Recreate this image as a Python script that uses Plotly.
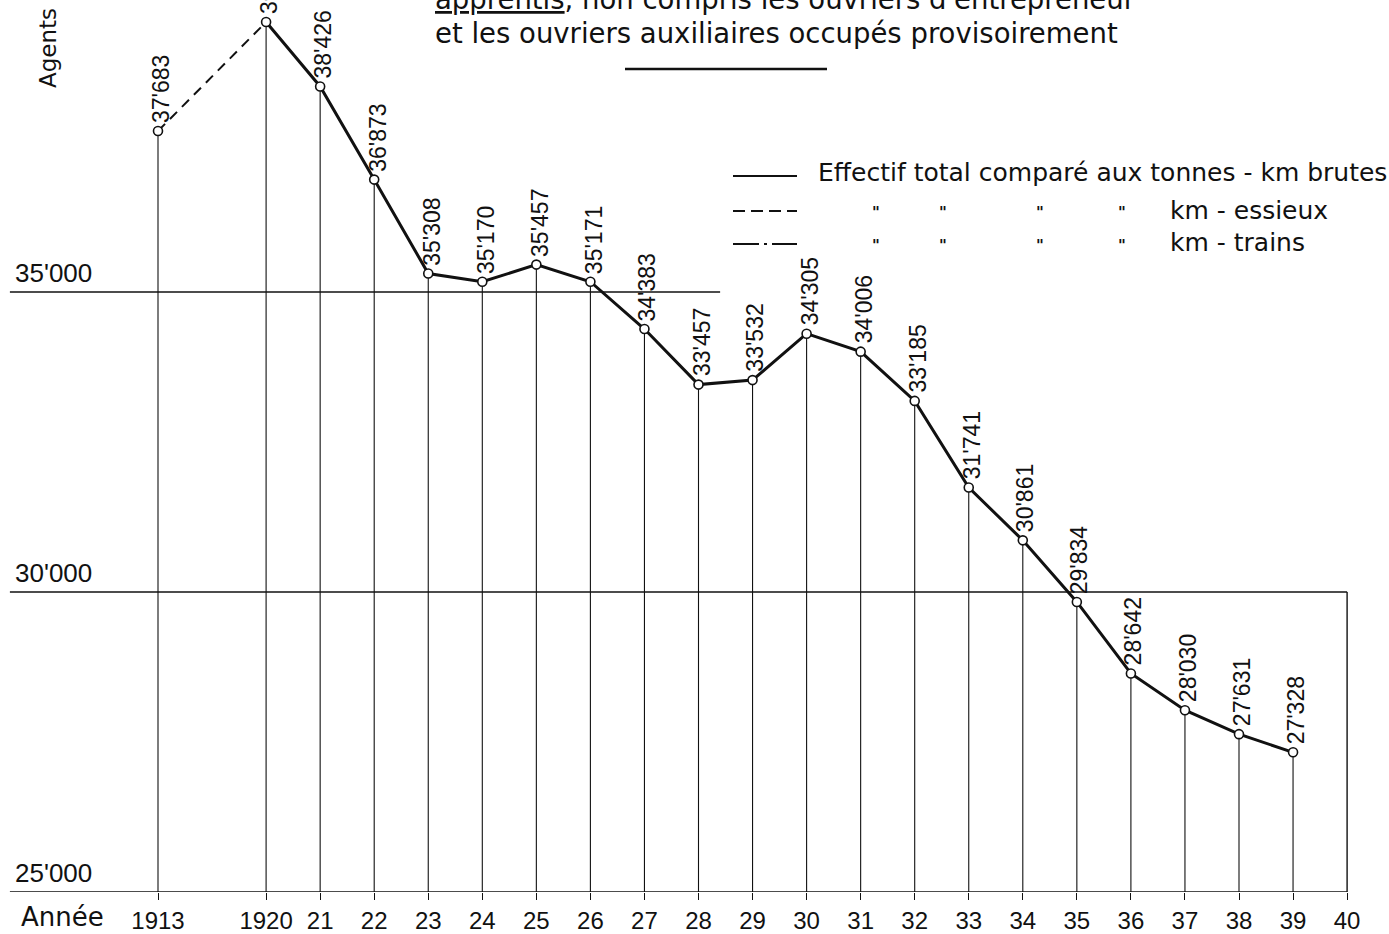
import plotly.graph_objects as go

# ---- data ----
year_labels = ["1913", "1920", "21", "22", "23", "24", "25", "26", "27", "28", "29",
               "30", "31", "32", "33", "34", "35", "36", "37", "38", "39"]
positions = [0, 2, 3, 4, 5, 6, 7, 8, 9, 10, 11, 12, 13, 14, 15, 16, 17, 18, 19, 20, 21]
agents = [37683, 39500, 38426, 36873, 35308, 35170, 35457, 35171, 34383, 33457, 33532,
          34305, 34006, 33185, 31741, 30861, 29834, 28642, 28030, 27631, 27328]
tick_positions = [0] + list(range(2, 23))
tick_labels = ["1913", "1920"] + [str(y) for y in range(21, 41)]
grid_values = [35000, 30000, 25000]
grid_labels = ["35'000", "30'000", "25'000"]

W, H = 1389, 934
B = 42
PLOT_H = H - B
PX_PER_UNIT = 54.05
X0_PX = 158
Y_BASE = 25000
PX_PER_AGENT = 0.06

x_range = [-X0_PX / PX_PER_UNIT, (W - X0_PX) / PX_PER_UNIT]
y_range = [Y_BASE, Y_BASE + PLOT_H / PX_PER_AGENT]


def px_x(px):
    return px / W


def px_y(py):
    return (PLOT_H - py) / PLOT_H


INK = "#111111"
LETTER = "DejaVu Sans"
NUM = "Liberation Sans"

fig = go.Figure()

# drop lines
dx, dy = [], []
for p, v in zip(positions, agents):
    dx += [p, p, None]
    dy += [v, Y_BASE, None]
fig.add_trace(go.Scatter(x=dx, y=dy, mode="lines", line=dict(color=INK, width=1.1),
                         hoverinfo="skip", showlegend=False))

# dashed 1913-1920 segment
fig.add_trace(go.Scatter(x=positions[:2], y=agents[:2], mode="lines",
                         line=dict(color=INK, width=2, dash="10px,7px"),
                         showlegend=False))
# solid main line
fig.add_trace(go.Scatter(x=positions[1:], y=agents[1:], mode="lines",
                         line=dict(color=INK, width=3), showlegend=False))
# markers
fig.add_trace(go.Scatter(x=positions, y=agents, mode="markers",
                         marker=dict(symbol="circle", size=9, color="white",
                                     line=dict(color=INK, width=1.6)),
                         text=year_labels, showlegend=False))

shapes = []
grid_left = -2.74
grid_right = {35000: 10.4, 30000: 22, 25000: 22}
for g in grid_values:
    shapes.append(dict(type="line", xref="x", yref="y", x0=grid_left, x1=grid_right[g],
                       y0=g, y1=g, line=dict(color=INK, width=1.4)))
# right border segment at 1940
shapes.append(dict(type="line", xref="x", yref="y", x0=22, x1=22, y0=30000, y1=25000,
                   line=dict(color=INK, width=1.4)))

# legend samples
shapes.append(dict(type="line", xref="paper", yref="paper", x0=px_x(733), x1=px_x(797),
                   y0=px_y(176), y1=px_y(176), line=dict(color=INK, width=2.2)))
shapes.append(dict(type="line", xref="paper", yref="paper", x0=px_x(733), x1=px_x(797),
                   y0=px_y(211), y1=px_y(211), line=dict(color=INK, width=2.2, dash="12px,6px")))
shapes.append(dict(type="line", xref="paper", yref="paper", x0=px_x(733), x1=px_x(797),
                   y0=px_y(244), y1=px_y(244),
                   line=dict(color=INK, width=2.2, dash="26px,5px,3px,5px")))
# rule under title
shapes.append(dict(type="line", xref="paper", yref="paper", x0=px_x(625), x1=px_x(827),
                   y0=px_y(69), y1=px_y(69), line=dict(color=INK, width=2.5)))

ann = []
# data labels
for p, v in zip(positions, agents):
    ann.append(dict(x=p, y=v, xref="x", yref="y", text=f"{v // 1000}'{v % 1000:03d}",
                    textangle=-90, showarrow=False, xanchor="center", yanchor="bottom",
                    xshift=3, yshift=6, font=dict(family=NUM, size=23, color=INK)))
# y grid labels
for g, lab in zip(grid_values, grid_labels):
    ann.append(dict(x=px_x(13), y=g, xref="paper", yref="y", text=lab, showarrow=False,
                    xanchor="left", yanchor="bottom", yshift=2,
                    font=dict(family=NUM, size=26, color=INK)))


def text_at(px, py, text, size, anchor="left", family=LETTER, angle=0):
    ann.append(dict(x=px_x(px), y=px_y(py), xref="paper", yref="paper", text=text,
                    textangle=angle, showarrow=False, xanchor=anchor, yanchor="middle",
                    font=dict(family=family, size=size, color=INK)))


# axis titles
text_at(48, 48, "Agents", 23, anchor="center", angle=-90)
text_at(19, 917, "Année", 26)
# title lines (first line is cut by the top edge, as in the original)
text_at(433, -1, "<u>apprentis</u>, non compris les ouvriers d'entrepreneur", 27.5)
text_at(433, 33, "et les ouvriers auxiliaires occupés provisoirement", 27.5)
# legend texts
text_at(816, 172, "Effectif total comparé aux tonnes - km brutes", 25)
for row_y, tail in [(210, "km - essieux"), (243, "km - trains")]:
    for dxp in [876, 943, 1040, 1122]:
        text_at(dxp, row_y + 3, "<b>\"</b>", 15, anchor="center")
    text_at(1168, row_y, tail, 25)

fig.update_layout(
    width=W, height=H,
    margin=dict(l=0, r=0, t=0, b=B, pad=0),
    paper_bgcolor="white", plot_bgcolor="white",
    xaxis=dict(range=x_range, tickmode="array", tickvals=tick_positions, ticktext=tick_labels,
               ticks="outside", ticklen=7, tickwidth=1.2, tickcolor=INK,
               showgrid=False, zeroline=False, showline=False,
               tickfont=dict(family=NUM, size=24, color=INK), fixedrange=True),
    yaxis=dict(range=y_range, showgrid=False, zeroline=False, showline=False,
               showticklabels=False, ticks="", fixedrange=True),
    shapes=shapes, annotations=ann, showlegend=False,
)

fig.write_html("out.html", config={"displayModeBar": False},
               post_script="document.body.style.margin='0';document.body.style.overflow='hidden';")
